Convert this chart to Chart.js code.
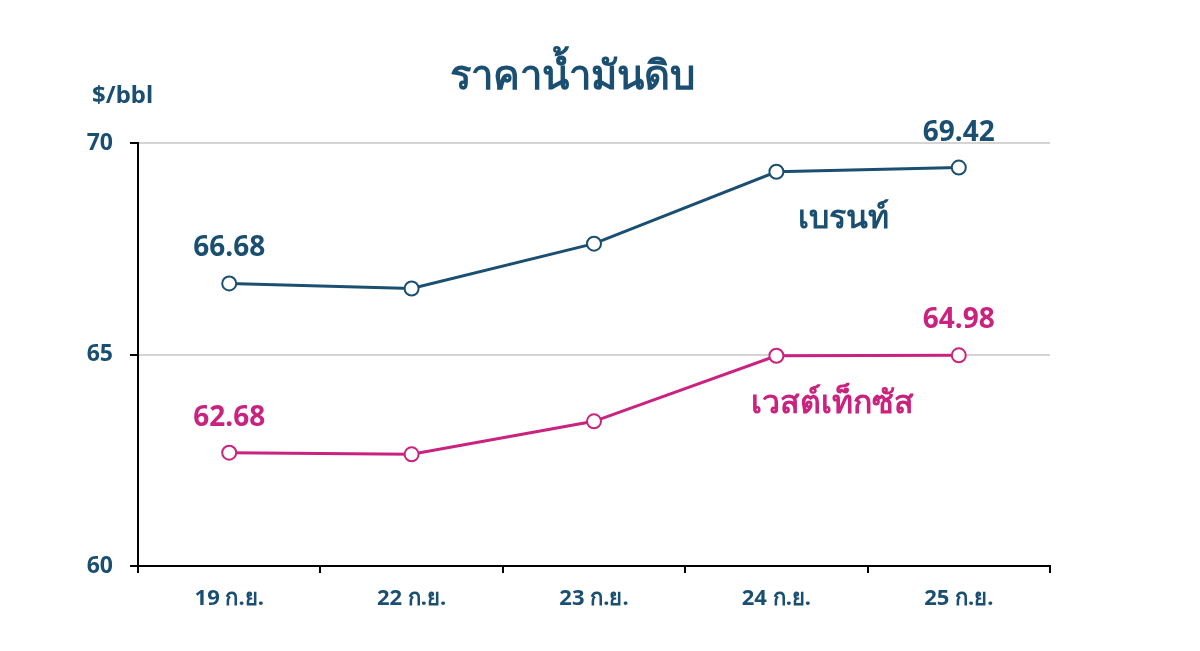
<!DOCTYPE html>
<html>
<head>
<meta charset="utf-8">
<script src="https://cdn.jsdelivr.net/npm/chart.js@4"></script>
<style>
  html, body { margin: 0; padding: 0; background: #fff; }
  #wrap { width: 1200px; height: 651px; }
</style>
</head>
<body>
<div id="wrap"><canvas id="oilChart" width="1200" height="651"></canvas></div>
<script>
// ข้อมูลราคาน้ำมันดิบ
const days = ["19 ก.ย.", "22 ก.ย.", "23 ก.ย.", "24 ก.ย.", "25 ก.ย."];
const brent = [66.68, 66.56, 67.62, 69.32, 69.42];
const wti = [62.68, 62.64, 63.42, 64.97, 64.98];
const yTicks = [60, 65, 70];

const BLUE = "#1b4f72";
const PINK = "#c9237f";
const FONT = "'Noto Sans', Tahoma, sans-serif";

// title, unit, value labels and series names
const annotate = {
  id: "annotate",
  afterDatasetsDraw(chart) {
    const { ctx, scales } = chart;
    ctx.save();
    ctx.textAlign = "center";
    ctx.textBaseline = "middle";

    ctx.fillStyle = BLUE;
    ctx.font = "bold 40px " + FONT;
    ctx.fillText("ราคาน้ำมันดิบ", 572, 78);

    ctx.textAlign = "left";
    ctx.font = "bold 24px " + FONT;
    ctx.fillText("$/bbl", 92, 96);

    // first and last values
    ctx.textAlign = "center";
    ctx.font = "bold 28px " + FONT;
    chart.data.datasets.forEach((ds, i) => {
      const pts = chart.getDatasetMeta(i).data;
      ctx.fillStyle = ds.borderColor;
      [0, pts.length - 1].forEach((k) => {
        ctx.fillText(ds.data[k].toFixed(2), pts[k].x, pts[k].y - 35);
      });
    });

    // series names next to the lines
    const names = [
      { text: "เบรนท์", at: 3.37, v: 68.21, color: BLUE },
      { text: "เวสต์เท็กซัส", at: 3.31, v: 63.84, color: PINK },
    ];
    ctx.font = "bold 32px " + FONT;
    names.forEach((n) => {
      ctx.fillStyle = n.color;
      ctx.fillText(n.text, scales.x.getPixelForValue(n.at), scales.y.getPixelForValue(n.v));
    });
    ctx.restore();
  },
};

new Chart(document.getElementById("oilChart"), {
  type: "line",
  data: {
    labels: days,
    datasets: [
      {
        label: "เบรนท์",
        data: brent,
        borderColor: BLUE,
        backgroundColor: "#ffffff",
        borderWidth: 3,
        pointRadius: 7,
        pointBorderWidth: 2,
        tension: 0,
      },
      {
        label: "เวสต์เท็กซัส",
        data: wti,
        borderColor: PINK,
        backgroundColor: "#ffffff",
        borderWidth: 3,
        pointRadius: 7,
        pointBorderWidth: 2,
        tension: 0,
      },
    ],
  },
  options: {
    responsive: false,
    animation: false,
    layout: { padding: { top: 143, right: 150, bottom: 0, left: 0 } },
    plugins: {
      legend: { display: false },
      title: { display: false },
      tooltip: { enabled: false },
    },
    scales: {
      x: {
        offset: true,
        grid: {
          offset: true,
          drawOnChartArea: false,
          tickColor: "#000",
          tickLength: 7,
          lineWidth: 2,
        },
        border: { color: "#000", width: 2 },
        ticks: {
          color: BLUE,
          font: { family: FONT, size: 22, weight: "bold" },
          padding: 13,
          maxRotation: 0,
        },
        afterFit(s) { s.height = 85; },
      },
      y: {
        min: 60,
        max: 70,
        afterBuildTicks(s) { s.ticks = yTicks.map((v) => ({ value: v })); },
        grid: {
          color: "#d4d4d4",
          lineWidth: 2,
          tickColor: "#000",
          tickLength: 8,
        },
        border: { color: "#000", width: 2 },
        ticks: {
          color: BLUE,
          font: { family: FONT, size: 23, weight: "bold" },
          padding: 17,
        },
        afterFit(s) { s.width = 138; },
      },
    },
  },
  plugins: [annotate],
});
</script>
</body>
</html>
